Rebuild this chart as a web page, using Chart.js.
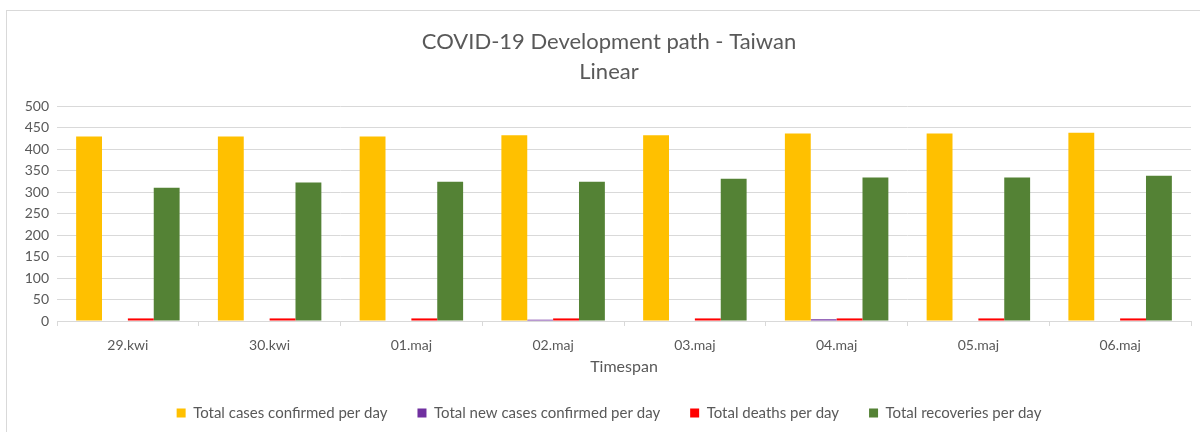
<!DOCTYPE html>
<html>
<head>
<meta charset="utf-8">
<script src="https://cdn.jsdelivr.net/npm/chart.js"></script>
<style>
  html, body { margin: 0; padding: 0; background: #fff; overflow: hidden; }
  #frame {
    position: absolute; left: 6px; top: 10px;
    width: 1206px; height: 440px;
    border: 1px solid #d9d9d9; box-sizing: border-box;
  }
  #wrap { position: absolute; left: 6px; top: 10px; width: 1206px; height: 422px; }
</style>
</head>
<body>
<div id="frame"></div>
<div id="wrap"><canvas id="chart"></canvas></div>
<script>
const categories = ["29.kwi", "30.kwi", "01.maj", "02.maj", "03.maj", "04.maj", "05.maj", "06.maj"];
const totalCases = [429, 429, 429, 432, 432, 436, 436, 438];
const newCases = [0, 0, 0, 3, 0, 4, 0, 0];
const deaths = [6, 6, 6, 6, 6, 6, 6, 6];
const recoveries = [310, 322, 324, 324, 331, 334, 334, 338];
const yTicks = { min: 0, max: 500, step: 50 };

const textColor = "#595959";
const gridColor = "#d9d9d9";
const fontFamily = "Lato, 'Open Sans', sans-serif";

const bar = (label, data, color) => ({
  label, data,
  backgroundColor: color,
  borderWidth: 0,
  categoryPercentage: 0.73,
  barPercentage: 1.0
});

new Chart(document.getElementById("chart"), {
  type: "bar",
  data: {
    labels: categories,
    datasets: [
      bar("Total cases confirmed per day", totalCases, "#ffc000"),
      bar("Total new cases confirmed per day", newCases, "#7030a0"),
      bar("Total deaths per day", deaths, "#ff0000"),
      bar("Total recoveries per day", recoveries, "#548235")
    ]
  },
  options: {
    responsive: true,
    maintainAspectRatio: false,
    animation: false,
    layout: { padding: { left: 0, right: 0, top: 0, bottom: 1.5 } },
    plugins: {
      title: {
        display: true,
        text: ["COVID-19 Development path - Taiwan", "Linear"],
        color: textColor,
        font: { family: fontFamily, size: 22, weight: "normal", lineHeight: 30 / 22 },
        padding: { top: 17, bottom: 19 }
      },
      legend: {
        position: "bottom",
        labels: {
          color: textColor,
          font: { family: fontFamily, size: 15 },
          boxWidth: 9,
          boxHeight: 9,
          padding: 30
        }
      },
      tooltip: { enabled: false }
    },
    scales: {
      x: {
        grid: {
          offset: true,
          drawOnChartArea: false,
          drawTicks: true,
          tickLength: 5,
          color: gridColor
        },
        border: { color: gridColor },
        ticks: { color: textColor, font: { family: fontFamily, size: 14 }, padding: 11 },
        title: {
          display: true,
          text: "Timespan",
          color: textColor,
          font: { family: fontFamily, size: 16 },
          padding: { top: 4.6, bottom: -1.1 }
        },
        afterFit(scale) { scale.height = 54.5; }
      },
      y: {
        min: yTicks.min,
        max: yTicks.max,
        grid: { color: gridColor, drawTicks: false },
        border: { display: false },
        ticks: {
          stepSize: yTicks.step,
          autoSkip: false,
          color: textColor,
          font: { family: fontFamily, size: 14 },
          padding: 8
        },
        afterFit(scale) { scale.width = 51; }
      },
      spacer: {
        position: "right",
        grid: { display: false },
        border: { display: false },
        ticks: { display: false },
        afterFit(scale) { scale.width = 21; }
      }
    }
  }
});
</script>
</body>
</html>
